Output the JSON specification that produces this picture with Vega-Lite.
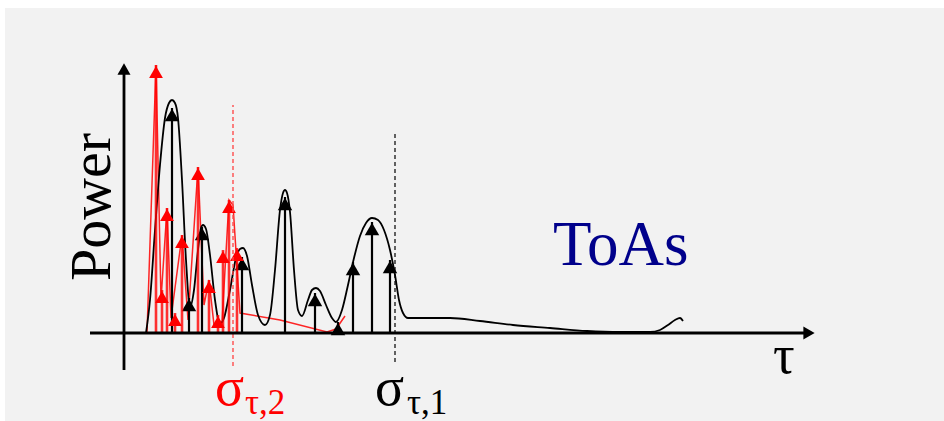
{
  "$schema": "https://vega.github.io/schema/vega-lite/v6.json",
  "width": 944,
  "height": 421,
  "padding": 0,
  "autosize": {"type": "none"},
  "background": "white",
  "config": {"view": {"stroke": null}},
  "datasets": {
    "panel": [{"t0": -119, "t1": 820, "p0": -88, "p1": 325}],
    "yaxis": [{"t": 0, "p0": -37, "p1": 262}],
    "xaxis": [{"t0": -34, "t1": 684, "p": 0}],
    "yhead": [{"t": 0, "p": 264}],
    "xhead": [{"t": 685, "p": 0}],
    "profile1": [
      {"t": 22, "p": 0}, {"t": 26, "p": 33}, {"t": 31, "p": 103}, {"t": 36, "p": 168}, {"t": 41, "p": 215},
      {"t": 45, "p": 230}, {"t": 48, "p": 233}, {"t": 51, "p": 230}, {"t": 54, "p": 215}, {"t": 58, "p": 153},
      {"t": 62, "p": 73}, {"t": 66, "p": 26}, {"t": 70, "p": 43}, {"t": 74, "p": 83}, {"t": 77, "p": 105},
      {"t": 79, "p": 108}, {"t": 82, "p": 104}, {"t": 86, "p": 78}, {"t": 91, "p": 33}, {"t": 96, "p": 9},
      {"t": 100, "p": 15}, {"t": 106, "p": 43}, {"t": 112, "p": 75}, {"t": 116, "p": 84}, {"t": 119, "p": 85},
      {"t": 123, "p": 77}, {"t": 128, "p": 48}, {"t": 134, "p": 18}, {"t": 141, "p": 8}, {"t": 146, "p": 18},
      {"t": 151, "p": 63}, {"t": 156, "p": 123}, {"t": 159, "p": 140}, {"t": 161, "p": 143}, {"t": 163, "p": 140},
      {"t": 166, "p": 121}, {"t": 170, "p": 63}, {"t": 174, "p": 23}, {"t": 178, "p": 17}, {"t": 184, "p": 33},
      {"t": 188, "p": 43}, {"t": 192, "p": 45}, {"t": 196, "p": 42}, {"t": 202, "p": 28}, {"t": 208, "p": 15},
      {"t": 212, "p": 11}, {"t": 218, "p": 23}, {"t": 224, "p": 48}, {"t": 230, "p": 75}, {"t": 236, "p": 97},
      {"t": 242, "p": 110}, {"t": 248, "p": 115}, {"t": 254, "p": 113}, {"t": 260, "p": 103}, {"t": 266, "p": 83},
      {"t": 271, "p": 58}, {"t": 275, "p": 33}, {"t": 279, "p": 20}, {"t": 284, "p": 15}, {"t": 296, "p": 15},
      {"t": 326, "p": 15}, {"t": 356, "p": 12}, {"t": 389, "p": 8}, {"t": 426, "p": 5}, {"t": 463, "p": 2},
      {"t": 496, "p": 1}, {"t": 526, "p": 1}, {"t": 536, "p": 3}, {"t": 544, "p": 8}, {"t": 551, "p": 13},
      {"t": 556, "p": 15}, {"t": 559, "p": 12}
    ],
    "profile2": [
      {"t": 23, "p": 0}, {"t": 32, "p": 268}, {"t": 37, "p": 33}, {"t": 43, "p": 125}, {"t": 47, "p": 15},
      {"t": 58, "p": 98}, {"t": 64, "p": 13}, {"t": 74, "p": 166}, {"t": 80, "p": 28}, {"t": 85, "p": 53},
      {"t": 90, "p": 8}, {"t": 98, "p": 10}, {"t": 105, "p": 133}, {"t": 109, "p": 128}, {"t": 116, "p": 20},
      {"t": 156, "p": 13}, {"t": 203, "p": 1}, {"t": 212, "p": 4}, {"t": 221, "p": 17}
    ],
    "taps1": [
      {"t": 48, "p": 225}, {"t": 65, "p": 35}, {"t": 78, "p": 106}, {"t": 118, "p": 76}, {"t": 161, "p": 136},
      {"t": 191, "p": 40}, {"t": 214, "p": 11}, {"t": 229, "p": 71}, {"t": 248, "p": 111}, {"t": 266, "p": 73}
    ],
    "taps2": [
      {"t": 32, "p": 268}, {"t": 38, "p": 43}, {"t": 43, "p": 125}, {"t": 51, "p": 20}, {"t": 58, "p": 98},
      {"t": 74, "p": 166}, {"t": 85, "p": 53}, {"t": 94, "p": 18}, {"t": 99, "p": 83}, {"t": 105, "p": 133},
      {"t": 113, "p": 85}
    ],
    "rms2": [{"t": 109, "p0": -33, "p1": 228}],
    "rms1": [{"t": 271, "p0": -29, "p1": 200}],
    "lblPower": [{"t": -14, "p": 126, "text": "Power"}],
    "lblToAs": [{"t": 429, "p": 68, "text": "ToAs"}],
    "lblTau": [{"t": 649, "p": -40, "text": "τ"}],
    "sig2": [{"t": 91, "p": -72, "text": "σ"}],
    "sub2": [{"t": 121, "p": -81, "text": "τ,2"}],
    "sig1": [{"t": 251, "p": -72, "text": "σ"}],
    "sub1": [{"t": 283, "p": -81, "text": "τ,1"}]
  },
  "layer": [
    {
      "data": {"name": "panel"},
      "mark": {"type": "rect", "color": "#f2f2f2"},
      "encoding": {
        "x": {"field": "t0", "type": "quantitative", "scale": {"domain": [-124, 820], "nice": false, "zero": false}, "axis": null},
        "x2": {"field": "t1"},
        "y": {"field": "p0", "type": "quantitative", "scale": {"domain": [-88, 333], "nice": false, "zero": false}, "axis": null},
        "y2": {"field": "p1"}
      }
    },
    {
      "data": {"name": "profile2"},
      "mark": {"type": "line", "color": "#ff0000", "strokeWidth": 1.5, "opacity": 0.85},
      "encoding": {
        "x": {"field": "t", "type": "quantitative"},
        "y": {"field": "p", "type": "quantitative"}
      }
    },
    {
      "data": {"name": "profile1"},
      "mark": {"type": "line", "color": "#000000", "strokeWidth": 1.8, "interpolate": "monotone"},
      "encoding": {
        "x": {"field": "t", "type": "quantitative"},
        "y": {"field": "p", "type": "quantitative"}
      }
    },
    {
      "data": {"name": "taps1"},
      "mark": {"type": "rule", "color": "#000000", "strokeWidth": 2.2},
      "encoding": {
        "x": {"field": "t", "type": "quantitative"},
        "y": {"field": "p", "type": "quantitative"},
        "y2": {"datum": 0}
      }
    },
    {
      "data": {"name": "taps1"},
      "mark": {"type": "point", "shape": "triangle-up", "filled": true, "color": "#000000", "opacity": 1, "size": 210, "yOffset": 7},
      "encoding": {
        "x": {"field": "t", "type": "quantitative"},
        "y": {"field": "p", "type": "quantitative"}
      }
    },
    {
      "data": {"name": "taps2"},
      "mark": {"type": "rule", "color": "#ff0000", "strokeWidth": 2.6, "opacity": 0.8},
      "encoding": {
        "x": {"field": "t", "type": "quantitative"},
        "y": {"field": "p", "type": "quantitative"},
        "y2": {"datum": 0}
      }
    },
    {
      "data": {"name": "taps2"},
      "mark": {"type": "point", "shape": "triangle-up", "filled": true, "color": "#ff0000", "opacity": 1, "size": 190, "yOffset": 7},
      "encoding": {
        "x": {"field": "t", "type": "quantitative"},
        "y": {"field": "p", "type": "quantitative"}
      }
    },
    {
      "data": {"name": "rms2"},
      "mark": {"type": "rule", "color": "#ff4d4d", "strokeWidth": 1.4, "strokeDash": [4, 3]},
      "encoding": {
        "x": {"field": "t", "type": "quantitative"},
        "y": {"field": "p0", "type": "quantitative"},
        "y2": {"field": "p1"}
      }
    },
    {
      "data": {"name": "rms1"},
      "mark": {"type": "rule", "color": "#000000", "strokeWidth": 1.2, "strokeDash": [4, 3]},
      "encoding": {
        "x": {"field": "t", "type": "quantitative"},
        "y": {"field": "p0", "type": "quantitative"},
        "y2": {"field": "p1"}
      }
    },
    {
      "data": {"name": "yaxis"},
      "mark": {"type": "rule", "color": "#000000", "strokeWidth": 2.8},
      "encoding": {
        "x": {"field": "t", "type": "quantitative"},
        "y": {"field": "p0", "type": "quantitative"},
        "y2": {"field": "p1"}
      }
    },
    {
      "data": {"name": "xaxis"},
      "mark": {"type": "rule", "color": "#000000", "strokeWidth": 2.8},
      "encoding": {
        "x": {"field": "t0", "type": "quantitative"},
        "x2": {"field": "t1"},
        "y": {"field": "p", "type": "quantitative"}
      }
    },
    {
      "data": {"name": "yhead"},
      "mark": {"type": "point", "shape": "triangle-up", "filled": true, "color": "#000000", "opacity": 1, "size": 170},
      "encoding": {
        "x": {"field": "t", "type": "quantitative"},
        "y": {"field": "p", "type": "quantitative"}
      }
    },
    {
      "data": {"name": "xhead"},
      "mark": {"type": "point", "shape": "triangle-right", "filled": true, "color": "#000000", "opacity": 1, "size": 170},
      "encoding": {
        "x": {"field": "t", "type": "quantitative"},
        "y": {"field": "p", "type": "quantitative"}
      }
    },
    {
      "data": {"name": "lblPower"},
      "mark": {"type": "text", "font": "Liberation Serif", "fontSize": 58, "angle": 270, "align": "center", "baseline": "alphabetic", "color": "#000000"},
      "encoding": {
        "x": {"field": "t", "type": "quantitative"},
        "y": {"field": "p", "type": "quantitative"},
        "text": {"field": "text"}
      }
    },
    {
      "data": {"name": "lblToAs"},
      "mark": {"type": "text", "font": "Liberation Serif", "fontSize": 63, "align": "left", "baseline": "alphabetic", "color": "#00008b"},
      "encoding": {
        "x": {"field": "t", "type": "quantitative"},
        "y": {"field": "p", "type": "quantitative"},
        "text": {"field": "text"}
      }
    },
    {
      "data": {"name": "lblTau"},
      "mark": {"type": "text", "font": "Liberation Serif", "fontSize": 54, "align": "left", "baseline": "alphabetic", "color": "#000000"},
      "encoding": {
        "x": {"field": "t", "type": "quantitative"},
        "y": {"field": "p", "type": "quantitative"},
        "text": {"field": "text"}
      }
    },
    {
      "data": {"name": "sig2"},
      "mark": {"type": "text", "font": "Liberation Serif", "fontSize": 54, "align": "left", "baseline": "alphabetic", "color": "#ff0000"},
      "encoding": {
        "x": {"field": "t", "type": "quantitative"},
        "y": {"field": "p", "type": "quantitative"},
        "text": {"field": "text"}
      }
    },
    {
      "data": {"name": "sub2"},
      "mark": {"type": "text", "font": "Liberation Serif", "fontSize": 35, "align": "left", "baseline": "alphabetic", "color": "#ff0000"},
      "encoding": {
        "x": {"field": "t", "type": "quantitative"},
        "y": {"field": "p", "type": "quantitative"},
        "text": {"field": "text"}
      }
    },
    {
      "data": {"name": "sig1"},
      "mark": {"type": "text", "font": "Liberation Serif", "fontSize": 54, "align": "left", "baseline": "alphabetic", "color": "#000000"},
      "encoding": {
        "x": {"field": "t", "type": "quantitative"},
        "y": {"field": "p", "type": "quantitative"},
        "text": {"field": "text"}
      }
    },
    {
      "data": {"name": "sub1"},
      "mark": {"type": "text", "font": "Liberation Serif", "fontSize": 35, "align": "left", "baseline": "alphabetic", "color": "#000000"},
      "encoding": {
        "x": {"field": "t", "type": "quantitative"},
        "y": {"field": "p", "type": "quantitative"},
        "text": {"field": "text"}
      }
    }
  ]
}
